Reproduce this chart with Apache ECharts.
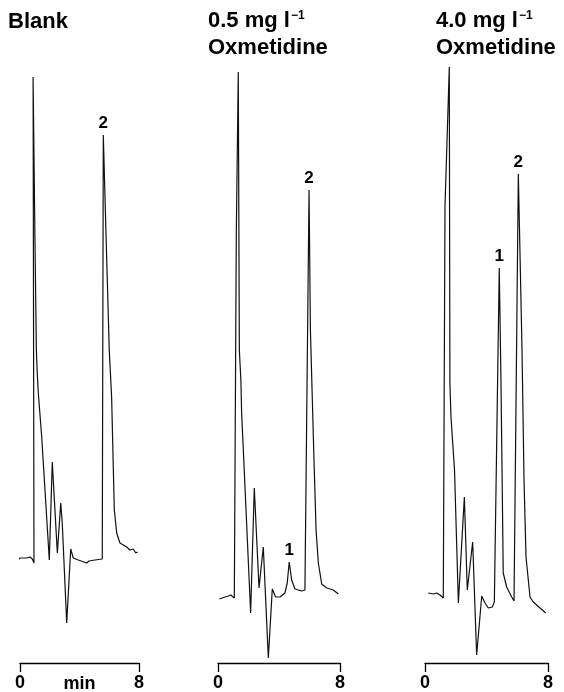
<!DOCTYPE html>
<html><head><meta charset="utf-8">
<script src="https://cdn.jsdelivr.net/npm/echarts@6/dist/echarts.min.js"></script>
<style>html,body{margin:0;padding:0;background:#fff}#c{width:564px;height:692px}</style>
</head><body><div id="c"></div>
<script>
// ---- Data (time in min, detector signal in arbitrary units) ----
const blankTime   = [-0.15, 0.00, 0.22, 0.45, 0.67, 0.83, 0.94, 0.88, 1.00, 1.10, 1.15, 1.23, 1.46, 1.97, 2.17, 2.51, 2.74, 2.84, 3.14, 3.41, 3.58, 3.92, 4.48, 4.64, 5.04, 5.53, 5.58, 5.60, 5.78, 6.00, 6.16, 6.34, 6.50, 6.72, 7.17, 7.39, 7.62, 7.78, 7.91];
const blankSignal = [103, 105, 105, 105, 106, 104, 100, 586, 430, 313, 293, 270, 226, 103, 201, 110, 160, 140, 40, 114, 105, 103, 100, 102, 103, 104, 106, 528, 430, 313, 266, 153, 130, 120, 116, 113, 114, 110, 111];

const lowTime   = [0.09, 0.46, 0.68, 0.83, 0.96, 1.07, 1.18, 1.20, 1.33, 1.40, 1.50, 1.55, 1.72, 2.14, 2.38, 2.69, 2.97, 3.30, 3.56, 3.78, 4.07, 4.39, 4.54, 4.67, 4.83, 5.05, 5.49, 5.70, 5.97, 6.06, 6.30, 6.43, 6.58, 6.80, 7.13, 7.56, 7.89];
const lowSignal = [64, 66, 67, 68, 66, 65, 64, 430, 591, 313, 283, 250, 193, 50, 175, 75, 116, 5, 74, 66, 66, 70, 80, 101, 83, 74, 72, 73, 473, 333, 200, 133, 100, 79, 75, 73, 69];

const highTime   = [0.21, 0.54, 0.76, 0.98, 1.19, 1.24, 1.30, 1.58, 1.62, 1.69, 1.92, 2.17, 2.56, 2.75, 3.10, 3.36, 3.69, 3.90, 4.12, 4.38, 4.51, 4.83, 4.94, 5.09, 5.31, 5.64, 5.79, 6.07, 6.31, 6.44, 6.57, 6.83, 7.04, 7.26, 7.48, 7.85];
const highSignal = [70, 69, 70, 68, 65, 64, 456, 596, 280, 246, 193, 60, 166, 73, 121, 8, 67, 60, 55, 56, 61, 395, 283, 90, 76, 66, 62, 489, 313, 183, 106, 66, 61, 58, 55, 50];

const blankPeakNames = ['2'];
const blankPeakTimes = [5.60];
const blankPeakHeights = [528];
const lowPeakNames = ['1', '2'];
const lowPeakTimes = [4.67, 5.97];
const lowPeakHeights = [101, 473];
const highPeakNames = ['1', '2'];
const highPeakTimes = [4.83, 6.07];
const highPeakHeights = [395, 489];

const axisTicks = [0, 8];
const titles = ['Blank', '0.5 mg l', '4.0 mg l'];
const drugName = 'Oxmetidine';

// ---- Chart ----
const FONT = '"Liberation Sans", Arial, Helvetica, sans-serif';
const zip = (a, b) => a.map((x, i) => [x, b[i]]);
const peaks = (n, t, h) => n.map((name, i) => ({ name: name, coord: [t[i], h[i]] }));

const panels = [
  { grid: { left: 20, width: 119 }, data: zip(blankTime, blankSignal), marks: peaks(blankPeakNames, blankPeakTimes, blankPeakHeights), name: 'min' },
  { grid: { left: 218, width: 122 }, data: zip(lowTime, lowSignal), marks: peaks(lowPeakNames, lowPeakTimes, lowPeakHeights), name: '' },
  { grid: { left: 425, width: 123 }, data: zip(highTime, highSignal), marks: peaks(highPeakNames, highPeakTimes, highPeakHeights), name: '' }
];

const boldText = { fontFamily: FONT, fontWeight: 'bold', color: '#000' };

const option = {
  animation: false,
  backgroundColor: '#fff',
  title: [
    { text: titles[0], left: 8, top: 8, padding: 0,
      textStyle: Object.assign({ fontSize: 22, lineHeight: 27 }, boldText) },
    { text: '{a|' + titles[1] + '}{s|\u22121}\n{a|' + drugName + '}', left: 208, top: 7, padding: 0,
      textStyle: { rich: {
        a: Object.assign({ fontSize: 22, lineHeight: 27 }, boldText),
        s: Object.assign({ fontSize: 12, lineHeight: 14, verticalAlign: 'top', padding: [3, 0, 0, 1] }, boldText) } } },
    { text: '{a|' + titles[2] + '}{s|\u22121}\n{a|' + drugName + '}', left: 436, top: 7, padding: 0,
      textStyle: { rich: {
        a: Object.assign({ fontSize: 22, lineHeight: 27 }, boldText),
        s: Object.assign({ fontSize: 12, lineHeight: 14, verticalAlign: 'top', padding: [3, 0, 0, 1] }, boldText) } } }
  ],
  grid: panels.map(p => ({ left: p.grid.left, width: p.grid.width, top: 63, height: 600, containLabel: false, outerBoundsMode: 'none' })),
  xAxis: panels.map((p, i) => ({
    type: 'value', gridIndex: i, min: axisTicks[0], max: axisTicks[1], interval: axisTicks[1] - axisTicks[0],
    name: p.name, nameLocation: 'middle', nameGap: 12, nameMoveOverlap: false,
    nameTextStyle: Object.assign({ fontSize: 18, verticalAlign: 'top' }, boldText),
    axisLine: { show: true, onZero: false, lineStyle: { color: '#000', width: 1.3 } },
    axisTick: { show: true, inside: false, length: 9, lineStyle: { color: '#000', width: 1.3 } },
    axisLabel: Object.assign({ show: true, margin: 11, fontSize: 18, hideOverlap: false }, boldText),
    splitLine: { show: false }
  })),
  yAxis: panels.map((p, i) => ({ type: 'value', gridIndex: i, min: 0, max: 600, show: false })),
  series: panels.map((p, i) => ({
    type: 'line', xAxisIndex: i, yAxisIndex: i, data: p.data,
    symbol: 'none', showSymbol: false, clip: false, smooth: false,
    lineStyle: { color: '#111', width: 1.2 },
    markPoint: {
      symbol: 'circle', symbolSize: 0, silent: true,
      label: Object.assign({ show: true, position: 'top', distance: 3, formatter: '{b}', fontSize: 17 }, boldText),
      data: p.marks
    }
  }))
};

const chart = echarts.init(document.getElementById('c'), null, { renderer: 'canvas' });
chart.setOption(option);
</script>
</body></html>
